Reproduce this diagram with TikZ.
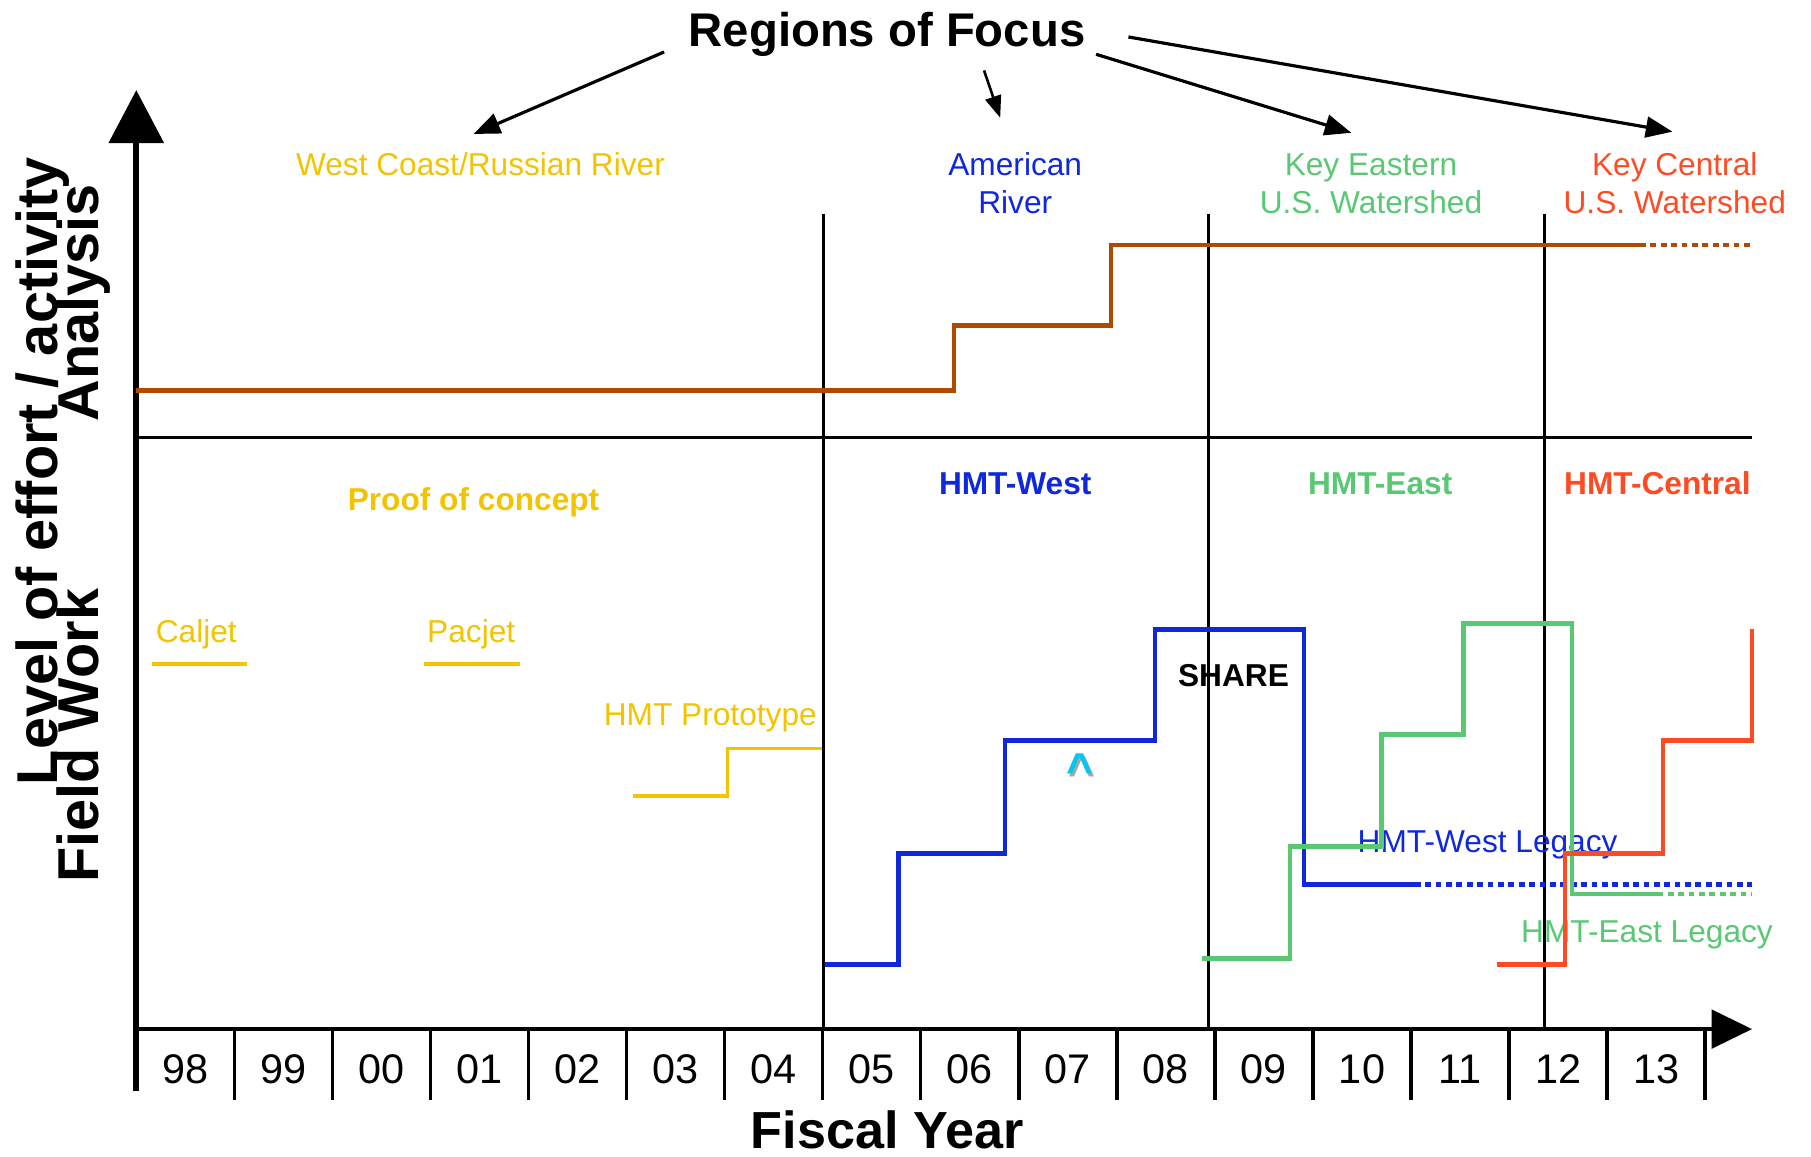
\documentclass[tikz,border=0pt]{standalone}
\usepackage{fontspec}
\setmainfont{Liberation Sans}
\usetikzlibrary{arrows.meta}
\definecolor{hmtyellow}{RGB}{242,196,0}
\definecolor{hmtblue}{RGB}{16,40,220}
\definecolor{hmtgreen}{RGB}{88,200,115}
\definecolor{hmtred}{RGB}{255,75,35}
\definecolor{hmtbrown}{RGB}{176,74,0}
\definecolor{hmtcyan}{RGB}{0,200,240}
\begin{document}
\begin{tikzpicture}[x=0.02cm,y=-0.02cm,
    lbl/.style={inner sep=0pt,anchor=base,align=center,font=\fontsize{15.6}{18.7}\selectfont},
    blbl/.style={lbl,font=\fontsize{15.6}{18.7}\selectfont\bfseries},
    yearlbl/.style={lbl,font=\fontsize{20.4}{24}\selectfont},
    axlbl/.style={inner sep=0pt,anchor=base,rotate=90,font=\fontsize{28.4}{34}\selectfont\bfseries},
    focusarrow/.style={line width=0.055cm,-{Triangle[length=0.46cm,width=0.36cm]}},
    effort/.style={line width=0.08cm},
    legacy/.style={line width=0.08cm,dash pattern=on 0.1cm off 0.08cm},
    divider/.style={line width=0.05cm}]
\useasboundingbox (0,0) rectangle (1568,1001);
% axes
\draw[line width=0.1cm,-{Triangle[length=0.92cm,width=0.94cm]}] (118,945) -- (118,78);
\draw[line width=0.08cm,-{Triangle[length=0.7cm,width=0.66cm]}] (116,891) -- (1517,891);
\foreach \i in {1,...,16}
    \draw[line width=0.06cm] ({118+84.9*\i},891) -- ({118+84.9*\i},952);
\foreach \yr [count=\i from 0] in {98,99,00,01,02,03,04,05,06,07,08,09,10,11,12,13}
    \node[yearlbl] (fy\i) at ({118+84.9*(\i+0.5)},938) {\yr};
\node[inner sep=0pt,anchor=base,font=\fontsize{25.7}{30}\selectfont\bfseries] (fiscal) at (768,994) {Fiscal Year};
\node[axlbl] (effortlbl) at (50,408) {Level of effort / activity};
\node[axlbl] (fieldlbl) at (85,637) {Field Work};
\node[axlbl] (analysislbl) at (85,262) {Analysis};
% panels
\draw[divider] (713,185) -- (713,891) (1046,185) -- (1046,891) (1337,185) -- (1337,891);
\draw[line width=0.06cm] (118,379) -- (1517,379);
% regions
\node[inner sep=0pt,anchor=base,font=\fontsize{23.3}{28}\selectfont\bfseries] (focus) at (768,40) {Regions of Focus};
\node[lbl,text=hmtyellow] (wc) at (416,152) {West Coast/Russian River};
\node[lbl,text=hmtblue] (amr) at (879,185) {American\\River};
\node[lbl,text=hmtgreen] (kes) at (1187,185) {Key Eastern\\U.S. Watershed};
\node[lbl,text=hmtred] (kcs) at (1450,185) {Key Central\\U.S. Watershed};
\coordinate (f1) at (575,45);  \coordinate (wctip) at (410,116);
\coordinate (f2) at (852,61);  \coordinate (amrtip) at (866,102);
\coordinate (f3) at (949,47);  \coordinate (kestip) at (1170,115);
\coordinate (f4) at (977,32);  \coordinate (kcstip) at (1448,114);
\draw[focusarrow] (f1) -- (wctip);
\draw[focusarrow,line width=0.045cm,-{Triangle[length=0.38cm,width=0.28cm]}] (f2) -- (amrtip);
\draw[focusarrow] (f3) -- (kestip);
\draw[focusarrow] (f4) -- (kcstip);
% lower panel labels
\node[blbl,text=hmtyellow] (poc) at (410,442) {Proof of concept};
\node[blbl,text=hmtblue] (hw) at (879,428) {HMT-West};
\node[blbl,text=hmtgreen] (he) at (1195,428) {HMT-East};
\node[blbl,text=hmtred] (hc) at (1435,428) {HMT-Central};
\node[blbl] (share) at (1068,594) {SHARE};
\node[lbl,text=hmtyellow] (caljet) at (170,556) {Caljet};
\node[lbl,text=hmtyellow] (pacjet) at (408,556) {Pacjet};
\node[lbl,text=hmtyellow] (proto) at (615,628) {HMT Prototype};
\node[lbl,text=hmtblue] (hwl) at (1288,738) {HMT-West Legacy};
\node[lbl,text=hmtgreen] (hel) at (1426,816) {HMT-East Legacy};
\node[inner sep=0pt,anchor=base,text=black!35,font=\fontsize{22.7}{24}\selectfont\bfseries] at (937,683) {\textasciicircum};
\node[inner sep=0pt,anchor=base,text=hmtcyan,font=\fontsize{22.7}{24}\selectfont\bfseries] (caret) at (935,680) {\textasciicircum};
% effort lines
\draw[effort,hmtbrown] (118,338) -| (826,282) -| (962,212) -- (1420,212);
\draw[legacy,hmtbrown] (1420,212) -- (1517,212);
\draw[line width=0.06cm,hmtyellow] (132,575) -- (214,575) (367,575) -- (450,575)
    (548,689) -| (630,648) -- (712,648);
\draw[effort,hmtblue] (714,835) -| (778,739) -| (870,641) -| (1000,545) -| (1129,766) -- (1225,766);
\draw[legacy,hmtblue] (1225,766) -- (1517,766);
\draw[effort,hmtgreen] (1041,830) -| (1117,733) -| (1196,636) -| (1267,540) -| (1361,774) -- (1435,774);
\draw[legacy,hmtgreen] (1435,774) -- (1517,774);
\draw[effort,hmtred] (1296,835) -| (1355,739) -| (1440,641) -| (1517,545);
\end{tikzpicture}
\end{document}
